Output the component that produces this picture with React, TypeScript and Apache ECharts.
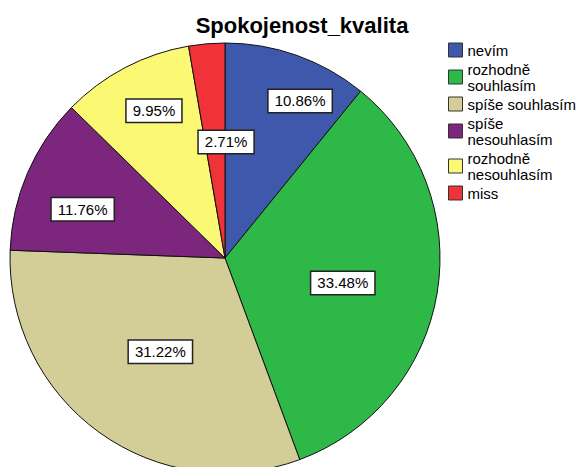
import React, { useEffect, useRef } from "react";
import * as echarts from "echarts";

const categories = [
  "nevím",
  "rozhodně souhlasím",
  "spíše souhlasím",
  "spíše nesouhlasím",
  "rozhodně nesouhlasím",
  "miss",
];
const legendLabels = [
  "nevím",
  "rozhodně\nsouhlasím",
  "spíše souhlasím",
  "spíše\nnesouhlasím",
  "rozhodně\nnesouhlasím",
  "miss",
];
const percentages = [10.86, 33.48, 31.22, 11.76, 9.95, 2.71];
const colors = ["#3E58AC", "#2EB848", "#D3CE97", "#7C277D", "#FBF873", "#EF3338"];

// label placement (styling): radial fraction and angular shift in degrees
const labelRadiusFrac = [0.81, 0.56, 0.53, 0.7, 0.76, 0.54];
const labelAngleShift = [6, 2.6, -1.3, -4.3, 1.9, 5.4];

const CX = 225;
const CY = 258;
const R = 215;

export default function App() {
  const ref = useRef<HTMLDivElement>(null);
  useEffect(() => {
    document.body.style.margin = "0";
    if (!ref.current) return;
    const chart = echarts.init(ref.current, undefined, { renderer: "svg" });
    const total = percentages.reduce((a, b) => a + b, 0);
    const midAngles: number[] = [];
    let acc = 0;
    percentages.forEach((v) => {
      midAngles.push(((acc + v / 2) / total) * 360);
      acc += v;
    });
    chart.setOption({
      animation: false,
      backgroundColor: "#ffffff",
      title: {
        text: "Spokojenost_kvalita",
        left: 297,
        top: 9,
        textAlign: "center",
        textStyle: {
          fontFamily: "Liberation Sans, Arial, sans-serif",
          fontSize: 22,
          fontWeight: "bold",
          color: "#000",
        },
      },
      legend: {
        orient: "vertical",
        left: 448,
        top: 42,
        padding: 0,
        itemWidth: 14,
        itemHeight: 14,
        itemGap: 3,
        icon: "rect",
        data: categories,
        itemStyle: { borderColor: "#333", borderWidth: 1 },
        formatter: (name: string) => legendLabels[categories.indexOf(name)],
        textStyle: {
          fontFamily: "Liberation Sans, Arial, sans-serif",
          fontSize: 15,
          lineHeight: 16,
          color: "#000",
        },
      },
      series: [
        {
          type: "pie",
          center: [CX, CY],
          radius: R,
          startAngle: 90,
          clockwise: true,
          avoidLabelOverlap: false,
          data: categories.map((c, i) => ({
            name: c,
            value: percentages[i],
            itemStyle: { color: colors[i] },
          })),
          itemStyle: { borderColor: "#111", borderWidth: 1 },
          label: {
            show: true,
            position: "inside",
            formatter: (p: any) => p.value.toFixed(2) + "%",
            fontFamily: "Liberation Sans, Arial, sans-serif",
            fontSize: 15,
            color: "#000",
            backgroundColor: "#fff",
            borderColor: "#222",
            borderWidth: 1.5,
            padding: [4, 6, 3, 6],
          },
          labelLine: { show: false },
          emphasis: { disabled: true },
          labelLayout: (params: any) => {
            const i = params.dataIndex;
            const a = ((midAngles[i] + labelAngleShift[i]) * Math.PI) / 180;
            const d = labelRadiusFrac[i] * R;
            return {
              x: CX + d * Math.sin(a),
              y: CY - d * Math.cos(a),
              align: "center",
              verticalAlign: "middle",
            };
          },
        },
      ],
    });
    return () => chart.dispose();
  }, []);
  return <div ref={ref} style={{ width: 581, height: 467 }} />;
}
